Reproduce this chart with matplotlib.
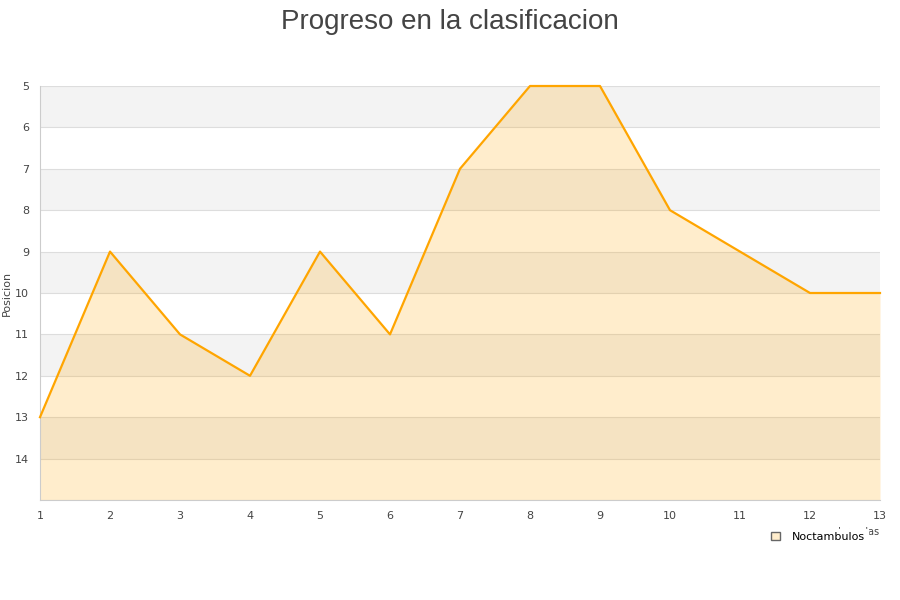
import matplotlib.pyplot as plt
from matplotlib.patches import Patch

# Data
jornadas = [1, 2, 3, 4, 5, 6, 7, 8, 9, 10, 11, 12, 13]
posicion = [13, 9, 11, 12, 9, 11, 7, 5, 5, 8, 9, 10, 10]
equipo = 'Noctambulos'
y_ticks = [5, 6, 7, 8, 9, 10, 11, 12, 13, 14]

fig = plt.figure(figsize=(9, 6), dpi=100)
ax = fig.add_axes([40 / 900, 1 - 500 / 600, 840 / 900, 414 / 600])

# alternating bands
for y0 in range(5, 15, 2):
    ax.axhspan(y0, y0 + 1, color='#f3f3f3', zorder=0, lw=0)
for y in range(5, 16):
    ax.axhline(y, color='#dddddd', lw=0.8, zorder=1)

ax.fill_between(jornadas, posicion, 15, color='#ffa500', alpha=0.2, lw=0, zorder=2)
ax.plot(jornadas, posicion, color='#ffa500', lw=1.6, zorder=3, clip_on=False)

ax.set_xlim(1, 13)
ax.set_ylim(15, 5)
ax.set_xticks(jornadas)
ax.set_yticks(y_ticks)
ax.tick_params(length=0, labelsize=8, colors='#444444', pad=8)
for side in ['top', 'right']:
    ax.spines[side].set_visible(False)
for side in ['left', 'bottom']:
    ax.spines[side].set_color('#cccccc')
ax.set_ylabel('Posicion', fontsize=8, color='#444444', labelpad=2)
ax.set_xlabel('Jornadas', fontsize=7, color='#444444', loc='right', labelpad=4)

fig.suptitle('Progreso en la clasificacion', x=0.5, y=0.985, fontsize=20,
             color='#444444', family='Liberation Sans')

leg = fig.legend(handles=[Patch(facecolor='#ffedcc', edgecolor='#666666', label=equipo)],
                 loc='center', bbox_to_anchor=(818 / 900, 1 - 537 / 600), frameon=True,
                 fontsize=8, handlelength=0.8, handleheight=0.8, handletextpad=1.0,
                 borderpad=0.3)
leg.get_frame().set_facecolor('white')
leg.get_frame().set_edgecolor('white')
leg.get_frame().set_alpha(1)
leg.set_zorder(10)

plt.savefig('out.png')
